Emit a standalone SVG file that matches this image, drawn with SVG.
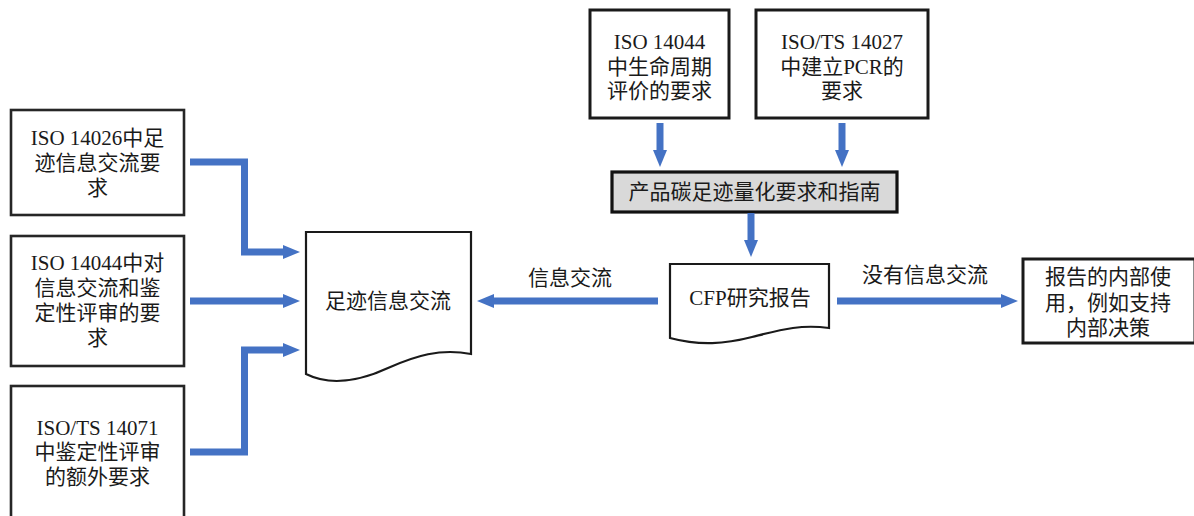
<svg xmlns="http://www.w3.org/2000/svg" width="1194" height="516" viewBox="0 0 1194 516">
<style>
.box{fill:#fff;stroke:#262626;stroke-width:2.6}
.tbox{fill:#fff;stroke:#1a1a1a;stroke-width:3}
.gbox{fill:#d9d9d9;stroke:#111;stroke-width:3.2}
.doc{fill:#fff;stroke:#1a1a1a;stroke-width:2.2}
.t{font-family:"Liberation Serif","Noto Sans CJK SC",serif;font-size:21px;fill:#1a1a1a;text-anchor:middle}
.conn{fill:none;stroke:#4472C4;stroke-width:7;stroke-linejoin:miter}
</style>
<defs>
<marker id="ah" markerUnits="userSpaceOnUse" markerWidth="18" markerHeight="14" refX="0" refY="7" orient="auto" overflow="visible">
<path d="M0,0 L17,7 L0,14 Z" fill="#4472C4"/>
</marker>
</defs>
<rect width="1194" height="516" fill="#fff"/>

<g id="n-iso14026">
<rect class="box" x="11" y="110" width="173" height="105"/>
<text class="t" x="97.5" y="145">ISO 14026中足</text>
<text class="t" x="97.5" y="170">迹信息交流要</text>
<text class="t" x="97.5" y="195">求</text>
</g>
<g id="n-iso14044a">
<rect class="box" x="11" y="236" width="173" height="130"/>
<text class="t" x="97.5" y="270">ISO 14044中对</text>
<text class="t" x="97.5" y="295">信息交流和鉴</text>
<text class="t" x="97.5" y="320">定性评审的要</text>
<text class="t" x="97.5" y="345">求</text>
</g>
<g id="n-iso14071">
<rect class="box" x="11" y="386" width="173" height="140"/>
<text class="t" x="97.5" y="435">ISO/TS 14071</text>
<text class="t" x="97.5" y="459">中鉴定性评审</text>
<text class="t" x="97.5" y="484">的额外要求</text>
</g>
<g id="n-iso14044b">
<rect class="tbox" x="590" y="10" width="139" height="108"/>
<text class="t" x="659.5" y="49">ISO 14044</text>
<text class="t" x="659.5" y="74">中生命周期</text>
<text class="t" x="659.5" y="98">评价的要求</text>
</g>
<g id="n-iso14027">
<rect class="tbox" x="756" y="10" width="172" height="108"/>
<text class="t" x="842" y="49">ISO/TS 14027</text>
<text class="t" x="842" y="74">中建立PCR的</text>
<text class="t" x="842" y="98">要求</text>
</g>
<g id="n-guide">
<rect class="gbox" x="612" y="172" width="285" height="40"/>
<text class="t" x="754.5" y="199">产品碳足迹量化要求和指南</text>
</g>
<g id="n-footprint">
<path class="doc" d="M306,232 H471 V354 C440,348 415,356 388,368 C360,381 330,386 306,374 Z"/>
<text class="t" x="388" y="308">足迹信息交流</text>
</g>
<g id="n-cfp">
<path class="doc" d="M670,264 H829 V328 C800,324 780,330 752,337 C725,344 700,346 670,338 Z"/>
<text class="t" x="750" y="305">CFP研究报告</text>
</g>
<g id="n-internal">
<rect class="tbox" x="1023" y="259" width="172" height="84"/>
<text class="t" x="1108" y="284">报告的内部使</text>
<text class="t" x="1108" y="310">用，例如支持</text>
<text class="t" x="1108" y="335">内部决策</text>
</g>

<g id="connectors">
<path class="conn" d="M190,162 H244.5 V252 H283" marker-end="url(#ah)"/>
<path class="conn" d="M190,301 H283" marker-end="url(#ah)"/>
<path class="conn" d="M190,452 H244.5 V350 H283" marker-end="url(#ah)"/>
<path class="conn" d="M660,123 V150" marker-end="url(#ah)"/>
<path class="conn" d="M842,123 V150" marker-end="url(#ah)"/>
<path class="conn" d="M751,213 V240" marker-end="url(#ah)"/>
<path class="conn" d="M658,301 H494" marker-end="url(#ah)"/>
<path class="conn" d="M837,301 H1001" marker-end="url(#ah)"/>
<text class="t" x="570" y="285">信息交流</text>
<text class="t" x="925" y="282">没有信息交流</text>
</g>
</svg>
